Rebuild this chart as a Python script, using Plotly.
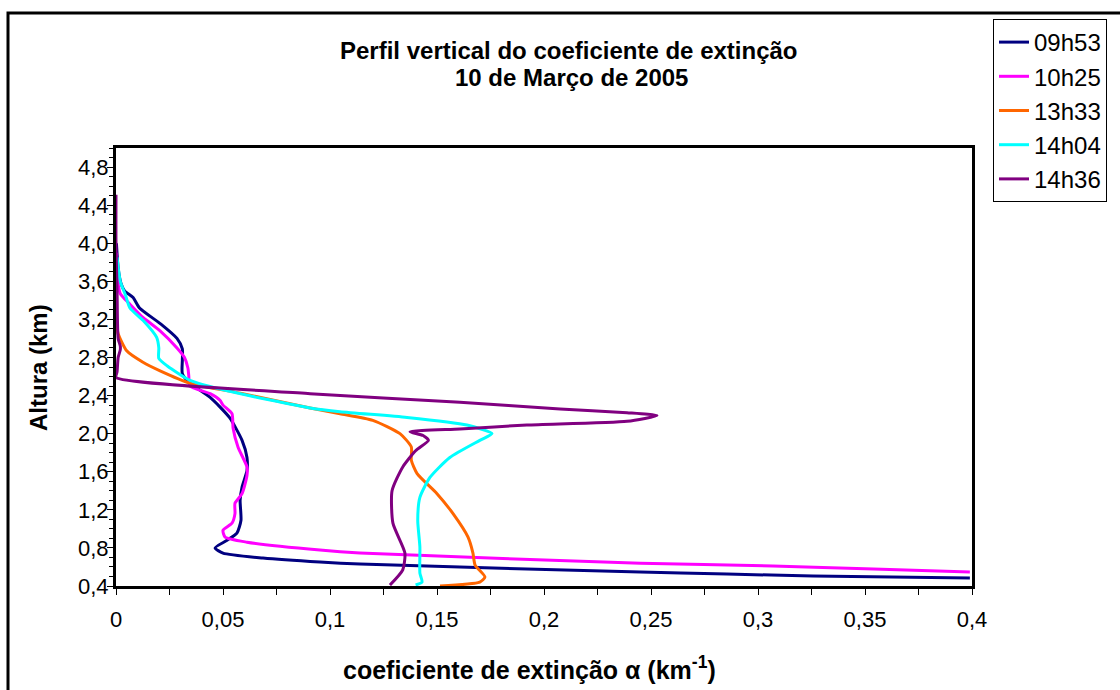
import plotly.graph_objects as go

# Extinction coefficient profiles (km^-1) against altitude (km), 10 March 2005
series_names = ["09h53", "10h25", "13h33", "14h04", "14h36"]
series_colors = ["#000080", "#FF00FF", "#FF6600", "#00FFFF", "#800080"]

alt_0953 = [4.0, 3.74, 3.58, 3.50, 3.43, 3.32, 3.15, 3.00, 2.89, 2.77, 2.63, 2.53, 2.38, 2.17,
            1.93, 1.75, 1.61, 1.44, 1.30, 1.09, 0.955, 0.88, 0.80, 0.745, 0.693, 0.651, 0.63,
            0.547, 0.526, 0.505, 0.484]
ext_0953 = [0.0002, 0.001, 0.0023, 0.004, 0.008, 0.011, 0.021, 0.0285, 0.031, 0.031, 0.031, 0.0346,
            0.044, 0.053, 0.0589, 0.0612, 0.0612, 0.0589, 0.058, 0.0584, 0.0565, 0.0519, 0.0463,
            0.050, 0.0687, 0.0953, 0.114, 0.245, 0.2855, 0.3257, 0.399]

alt_1025 = [3.9, 3.71, 3.57, 3.47, 3.36, 3.22, 3.08, 2.90, 2.80, 2.69, 2.61, 2.50, 2.42, 2.35,
            2.30, 2.21, 2.06, 1.86, 1.65, 1.56, 1.37, 1.27, 1.16, 1.06, 0.986, 0.913, 0.86,
            0.777, 0.746, 0.64, 0.61, 0.578, 0.547]
ext_1025 = [0.0002, 0.0005, 0.001, 0.002, 0.0065, 0.0126, 0.0206, 0.0285, 0.032, 0.0336, 0.034,
            0.0346, 0.044, 0.0486, 0.050, 0.0542, 0.0547, 0.057, 0.0612, 0.0612, 0.0589, 0.0556,
            0.0556, 0.0542, 0.050, 0.051, 0.0612, 0.0953, 0.114, 0.245, 0.307, 0.354, 0.399]

alt_1333 = [3.19, 3.05, 2.87, 2.75, 2.66, 2.53, 2.42, 2.27, 2.21, 2.14, 2.00, 1.86, 1.72, 1.58,
            1.37, 1.16, 0.913, 0.746, 0.62, 0.494, 0.44, 0.40]
ext_1333 = [0.0, 0.001, 0.005, 0.0126, 0.0206, 0.0346, 0.0593, 0.0907, 0.1047, 0.120, 0.1327,
            0.138, 0.138, 0.1407, 0.150, 0.1575, 0.1645, 0.1668, 0.1678, 0.1724, 0.170, 0.1514]

alt_1404 = [3.85, 3.60, 3.45, 3.32, 3.19, 3.01, 2.90, 2.79, 2.71, 2.56, 2.45, 2.27, 2.23, 2.17,
            2.09, 2.00, 1.93, 1.75, 1.54, 1.33, 1.09, 0.81, 0.536, 0.44, 0.41]
ext_1404 = [0.0005, 0.002, 0.0045, 0.0065, 0.0126, 0.019, 0.020, 0.020, 0.024, 0.0346, 0.052,
            0.0907, 0.1047, 0.136, 0.164, 0.1757, 0.170, 0.156, 0.1467, 0.142, 0.141, 0.142,
            0.142, 0.143, 0.140]

alt_1436 = [4.51, 4.0, 3.5, 3.0, 2.92, 2.88, 2.80, 2.65, 2.59, 2.42, 2.33, 2.26, 2.22, 2.19,
            2.13, 2.09, 2.05, 2.02, 1.98, 1.93, 1.82, 1.65, 1.40, 1.06, 0.746, 0.57, 0.41]
ext_1436 = [0.0, 0.0, 0.0005, 0.001, 0.002, 0.002, 0.001, 0.0005, 0.0, 0.0907, 0.1607, 0.2075,
            0.2388, 0.2528, 0.2388, 0.192, 0.1607, 0.1374, 0.1435, 0.146, 0.140, 0.134, 0.129,
            0.1294, 0.135, 0.134, 0.128]

x_ticks = [0, 0.05, 0.1, 0.15, 0.2, 0.25, 0.3, 0.35, 0.4]
x_ticklabels = ["0", "0,05", "0,1", "0,15", "0,2", "0,25", "0,3", "0,35", "0,4"]
y_ticks = [0.4, 0.8, 1.2, 1.6, 2.0, 2.4, 2.8, 3.2, 3.6, 4.0, 4.4, 4.8]
y_ticklabels = ["0,4", "0,8", "1,2", "1,6", "2,0", "2,4", "2,8", "3,2", "3,6", "4,0", "4,4", "4,8"]

profiles = [(ext_0953, alt_0953), (ext_1025, alt_1025), (ext_1333, alt_1333),
            (ext_1404, alt_1404), (ext_1436, alt_1436)]

FONT = "Liberation Sans, Arial, sans-serif"

fig = go.Figure()
for name, color, (xs, ys) in zip(series_names, series_colors, profiles):
    fig.add_trace(go.Scatter(
        x=xs, y=ys, name=name, mode="lines", legendgroup=name,
        line=dict(color=color, width=3, shape="spline", smoothing=0.6),
    ))

W, H = 1120, 690
L, R, T, B = 116, 148, 148, 104
pw, ph = W - L - R, H - T - B


def px_x(px):
    return (px - L) / pw


def px_y(py):
    return (H - B - py) / ph


def label(text, x, y, size, angle=0):
    return dict(text=text, xref="paper", yref="paper", x=px_x(x), y=px_y(y),
                xanchor="center", yanchor="middle", showarrow=False, textangle=angle,
                font=dict(size=size, family=FONT, color="black"))


fig.update_layout(
    width=W, height=H, autosize=False,
    margin=dict(l=L, r=R, t=T, b=B),
    paper_bgcolor="white", plot_bgcolor="white",
    font=dict(family=FONT, color="black"),
    showlegend=True,
    legend=dict(
        x=px_x(993), y=px_y(19), xanchor="left", yanchor="top",
        bgcolor="white", bordercolor="black", borderwidth=1,
        font=dict(size=24, family=FONT), traceorder="grouped", tracegroupgap=0,
        itemwidth=30,
    ),
    xaxis=dict(
        range=[0, 0.4], tickvals=x_ticks, ticktext=x_ticklabels,
        showgrid=False, zeroline=False,
        showline=True, linecolor="black", linewidth=3, mirror=True,
        ticks="outside", ticklen=6, tickcolor="black", tickwidth=1,
        minor=dict(dtick=0.025, tick0=0, ticks="outside", ticklen=6, tickcolor="black"),
        tickfont=dict(size=22, family=FONT), ticklabelstandoff=6,
    ),
    yaxis=dict(
        range=[0.4, 5.0], tickvals=y_ticks, ticktext=y_ticklabels,
        showgrid=False, zeroline=False,
        showline=True, linecolor="black", linewidth=3, mirror=True,
        ticks="outside", ticklen=6, tickcolor="black", tickwidth=1,
        minor=dict(dtick=0.1, tick0=0.4, ticks="outside", ticklen=4, tickcolor="black"),
        tickfont=dict(size=22, family=FONT), ticklabelstandoff=-6,
    ),
    shapes=[
        dict(type="rect", xref="paper", yref="paper",
             x0=px_x(8), x1=px_x(1135), y0=px_y(705), y1=px_y(13),
             line=dict(color="black", width=3), layer="below"),
    ],
    annotations=[
        label("<b>Perfil vertical do coeficiente de extinção</b>", 569, 50, 24),
        label("<b>10 de Março de 2005</b>", 571, 78, 24),
        label("<b>Altura (km)</b>", 38, 368, 24, angle=-90),
        label("<b>coeficiente de extinção α (km<sup>-1</sup>)</b>", 529, 668, 25),
    ],
)

fig.write_html("out.html")
